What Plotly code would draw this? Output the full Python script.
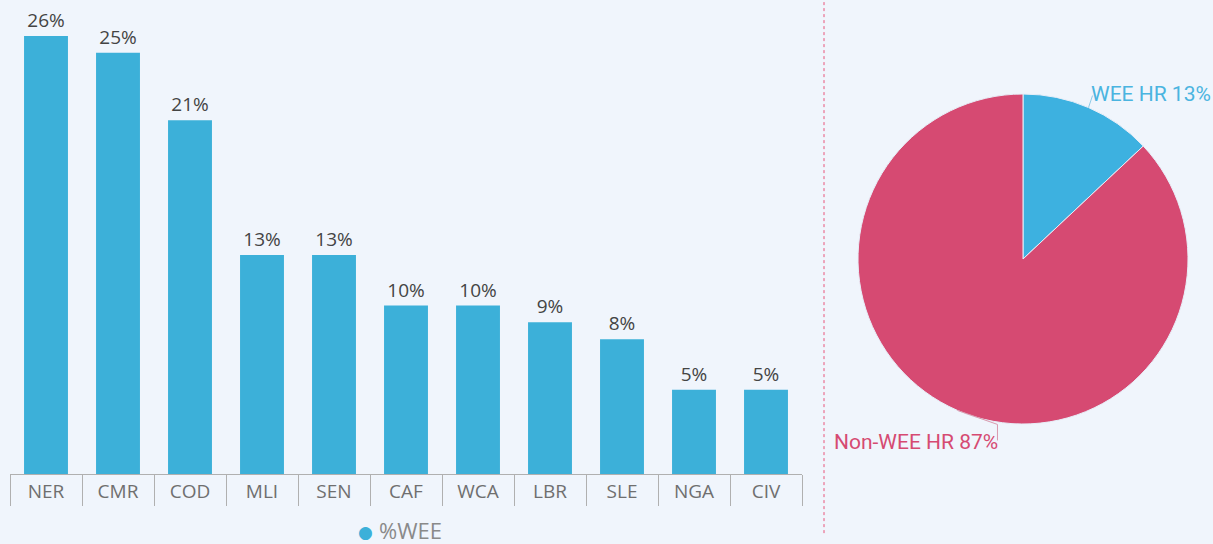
import math
import plotly.graph_objects as go

countries = ["NER", "CMR", "COD", "MLI", "SEN", "CAF", "WCA", "LBR", "SLE", "NGA", "CIV"]
wee_pct = [26, 25, 21, 13, 13, 10, 10, 9, 8, 5, 5]

pie_labels = ["WEE HR", "Non-WEE HR"]
pie_values = [13, 87]

BLUE = "#3cb0d9"
PIE_BLUE = "#3db1e0"
PINK = "#d64a72"
BG = "#f0f5fc"
W, H = 1213, 544
FONT = "Open Sans, sans-serif"

fig = go.Figure()
fig.add_trace(go.Bar(
    x=countries, y=wee_pct, marker=dict(color=BLUE, line=dict(width=0)),
    text=[f"{v}%" for v in wee_pct], textposition="outside", cliponaxis=False,
    textfont=dict(size=19, color="#444444", family=FONT),
    showlegend=False, hoverinfo="skip",
))

# pie domain (pixels -> paper)
cx, cy, r = 1023, 259, 165
fig.add_trace(go.Pie(
    labels=pie_labels, values=pie_values, sort=False, direction="clockwise", rotation=0,
    marker=dict(colors=[PIE_BLUE, PINK], line=dict(color="#e8eef8", width=1)),
    textinfo="none", showlegend=False, hoverinfo="skip",
    domain=dict(x=[(cx - r) / W, (cx + r) / W], y=[(H - cy - r) / H, (H - cy + r) / H]),
))

# pie labels with leader lines, placed from slice mid-angles
total = sum(pie_values)
cum = 0
label_colors = ["#4ab4e0", "#d64a72"]
for i, (lab, val) in enumerate(zip(pie_labels, pie_values)):
    mid = (cum + val / 2) / total * 2 * math.pi
    cum += val
    ex, ey = cx + r * math.sin(mid), cy - r * math.cos(mid)
    pct = round(val / total * 100)
    if math.sin(mid) >= 0:
        lx, ly = ex + 4, ey - 12
        path = f"M{ex/W},{1-ey/H} L{lx/W},{1-ly/H}"
        fig.add_annotation(x=(lx - 4) / W, y=1 - (ly - 2) / H, xref="paper", yref="paper",
                           text=f"{lab} {pct}%", showarrow=False, xanchor="left", yanchor="middle",
                           font=dict(size=21, color=label_colors[i], family="Roboto, sans-serif"))
    else:
        kx, ky = ex + 40, ey + 14
        lx, ly = kx, ky + 16
        path = f"M{ex/W},{1-ey/H} L{kx/W},{1-ky/H} L{lx/W},{1-ly/H}"
        fig.add_annotation(x=(lx + 3) / W, y=1 - (ly + 2) / H, xref="paper", yref="paper",
                           text=f"{lab} {pct}%", showarrow=False, xanchor="right", yanchor="middle",
                           font=dict(size=21, color=label_colors[i], family="Roboto, sans-serif"))
    fig.add_shape(type="path", path=path, xref="paper", yref="paper",
                  line=dict(color="#d99aae" if i else "#8fcbe8", width=1))

# legend drawn as text (marker + series name)
fig.add_annotation(x=365 / W, y=1 - 532 / H, xref="paper", yref="paper", showarrow=False,
                   xanchor="center", yanchor="middle", text="●",
                   font=dict(size=17, color=BLUE, family="DejaVu Sans, sans-serif"))
fig.add_annotation(x=377 / W, y=1 - 530 / H, xref="paper", yref="paper", showarrow=False,
                   xanchor="left", yanchor="middle", text="%WEE",
                   font=dict(size=22, color="#8a8a8a", family=FONT))

# dotted separator
fig.add_shape(type="line", xref="paper", yref="paper", x0=824 / W, x1=824 / W, y0=0.02, y1=1,
              line=dict(color="#e8547a", width=1, dash="dot"))

fig.update_layout(
    width=W, height=H, margin=dict(l=0, r=0, t=0, b=0),
    paper_bgcolor=BG, plot_bgcolor=BG,
    bargap=0.39, showlegend=False,
    font=dict(family=FONT),
    xaxis=dict(domain=[10 / W, 802 / W], showline=True, linecolor="#b0b0b0", linewidth=1,
               ticks="outside", tickson="boundaries", ticklen=31, tickcolor="#b0b0b0",
               tickfont=dict(size=19, color="#6f6f6f"), showgrid=False, zeroline=False,
               fixedrange=True),
    yaxis=dict(domain=[(H - 474) / H, (H - 10) / H], range=[0, 464 / 16.85], visible=False,
               showgrid=False, zeroline=False),
)

fig.write_html("out.html", config={"displayModeBar": False},
               post_script="document.body.style.margin='0';document.body.style.overflow='hidden';")
